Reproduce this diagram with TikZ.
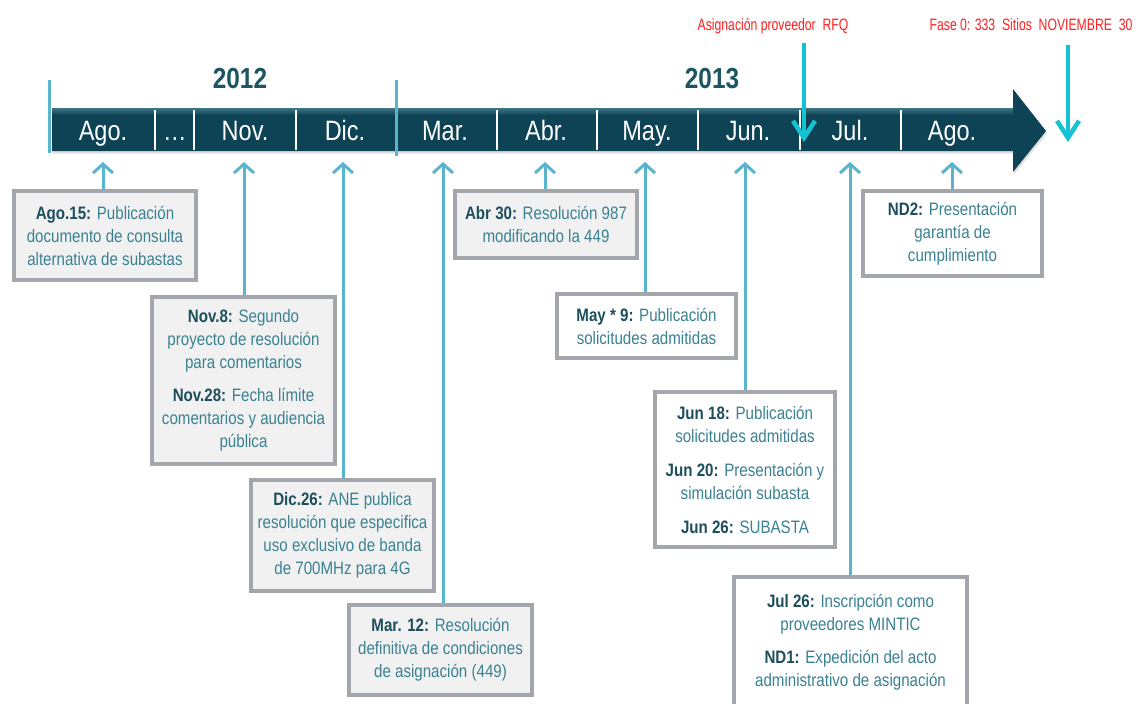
\documentclass[tikz,border=0pt]{standalone}
\usepackage{fontspec}
\setmainfont{Liberation Sans}[FakeStretch=0.84]
\newfontfamily\redfont{Liberation Sans}[FakeStretch=0.74]
\usetikzlibrary{arrows.meta,shadows}
\definecolor{barc}{HTML}{0E4355}
\definecolor{barhi}{HTML}{3E7686}
\definecolor{connc}{HTML}{5AB4CC}
\definecolor{cyanc}{HTML}{17C1D4}
\definecolor{boxgray}{HTML}{A3A7AB}
\definecolor{boxfill}{HTML}{F1F1F1}
\definecolor{txt}{HTML}{3A8191}
\definecolor{txtdark}{HTML}{1D4E5C}
\definecolor{yearc}{HTML}{1D5563}
\definecolor{redc}{HTML}{FF2020}
\newcommand\dt[1]{\textcolor{txtdark}{\textbf{#1}}}
\begin{document}
\begin{tikzpicture}[x=1pt,y=-1pt,
  evbox/.style={draw=boxgray,line width=4pt,fill=boxfill,align=center,text=txt,inner sep=0pt,
    font=\fontsize{18}{23}\selectfont},
  evboxw/.style={evbox,fill=white},
  connarrow/.style={draw=connc,line width=3pt,-{Straight Barb[length=9pt,width=20pt]}},
  cyanarrow/.style={draw=cyanc,line width=4.5pt,-{Straight Barb[length=17pt,width=22pt]}},
  monthlbl/.style={text=white,anchor=base,inner sep=0pt,font=\fontsize{28}{30}\selectfont},
  yearlbl/.style={text=yearc,anchor=base,inner sep=0pt,font=\fontsize{29}{31}\selectfont\bfseries},
  redlbl/.style={text=redc,anchor=base,inner sep=0pt,font=\redfont\fontsize{16.5}{18}\selectfont},
  yearline/.style={draw=connc,line width=3pt},
  divline/.style={draw=white,line width=2.5pt}
]
\useasboundingbox (0,0) rectangle (1138,704);
\clip (0,0) rectangle (1138,704);

% timeline bar
\fill[barc,drop shadow={shadow xshift=1pt,shadow yshift=-2.5pt,opacity=0.25}]
  (52,108) -- (1013,108) -- (1013,89) -- (1046,131) -- (1013,172) -- (1013,151) -- (52,151) -- cycle;
\shade[top color=barhi,bottom color=barc] (52,108) rectangle (1013,115);
\foreach \x in {155,194,296,497,597,698,800,901}
  \draw[divline] (\x,110) -- (\x,150);
\draw[yearline] (49,80) -- (49,153);
\draw[yearline] (396,80) -- (396,156);

% month labels
\node[monthlbl] (m1) at (103,140) {Ago.};
\node[monthlbl] (m2) at (175,140) {…};
\node[monthlbl] (m3) at (245,140) {Nov.};
\node[monthlbl] (m4) at (345,140) {Dic.};
\node[monthlbl] (m5) at (445,140) {Mar.};
\node[monthlbl] (m6) at (546,140) {Abr.};
\node[monthlbl] (m7) at (647,140) {May.};
\node[monthlbl] (m8) at (748,140) {Jun.};
\node[monthlbl] (m9) at (850,140) {Jul.};
\node[monthlbl] (m10) at (952,140) {Ago.};

% years
\node[yearlbl] (y12) at (240,88) {2012};
\node[yearlbl] (y13) at (712,88) {2013};

% red annotations
\node[redlbl] (rfq) at (773,30) {Asignación\ proveedor\ \ RFQ};
\node[redlbl] (fase) at (1031,30) {Fase 0: 333\ \ Sitios\ \ NOVIEMBRE\ \ 30};
\coordinate (rfqtop) at (804,43);
\coordinate (rfqtip) at (804,142);
\coordinate (fasetop) at (1068,45);
\coordinate (fasetip) at (1068,142);
\draw[cyanarrow] (rfqtop) -- (rfqtip);
\draw[cyanarrow] (fasetop) -- (fasetip);

% connector targets
\coordinate (t1) at (103,162);
\coordinate (t2) at (244,162);
\coordinate (t3) at (343,162);
\coordinate (t4) at (443,162);
\coordinate (t5) at (545,162);
\coordinate (t6) at (645,162);
\coordinate (t7) at (745,162);
\coordinate (t8) at (850,162);
\coordinate (t9) at (952,162);

% boxes
\node[evbox,minimum width=182pt,minimum height=89pt] (ago) at (105,235.5)
  {\dt{Ago.15:} Publicación\\documento de consulta\\alternativa de subastas};
\node[evbox,minimum width=183pt,minimum height=167pt] (nov) at (243.5,380.5)
  {\dt{Nov.8:} Segundo\\proyecto de resolución\\para comentarios\\[10pt]\dt{Nov.28:} Fecha límite\\comentarios y audiencia\\pública};
\node[evbox,minimum width=183pt,minimum height=111pt] (dic) at (342.5,535.5)
  {\dt{Dic.26:} ANE publica\\resolución que especifica\\uso exclusivo de banda\\de 700MHz para 4G};
\node[evbox,minimum width=183pt,minimum height=90pt] (mar) at (440.5,650)
  {\dt{Mar. 12:} Resolución\\definitiva de condiciones\\de asignación (449)};
\node[evbox,minimum width=182pt,minimum height=67pt] (abr) at (546,224.5)
  {\dt{Abr 30:} Resolución 987\\modificando la 449};
\node[evboxw,minimum width=179pt,minimum height=64pt] (may) at (646.5,326)
  {\dt{May * 9:} Publicación\\solicitudes admitidas};
\node[evboxw,minimum width=180pt,minimum height=155pt] (jun) at (745,469.5)
  {\dt{Jun 18:} Publicación\\solicitudes admitidas\\[11pt]\dt{Jun 20:} Presentación y\\simulación subasta\\[11pt]\dt{Jun 26:} SUBASTA};
\node[evboxw,minimum width=233pt,minimum height=131pt] (jul) at (850.5,642.5)
  {\dt{Jul 26:} Inscripción como\\proveedores MINTIC\\[10pt]\dt{ND1:} Expedición del acto\\administrativo de asignación};
\node[evboxw,minimum width=179pt,minimum height=85pt] (nd2) at (952.5,233.5)
  {\dt{ND2:} Presentación\\garantía de\\cumplimiento};

% connectors
\draw[connarrow] (t1 |- ago.north) -- (t1);
\draw[connarrow] (t2 |- nov.north) -- (t2);
\draw[connarrow] (t3 |- dic.north) -- (t3);
\draw[connarrow] (t4 |- mar.north) -- (t4);
\draw[connarrow] (t5 |- abr.north) -- (t5);
\draw[connarrow] (t6 |- may.north) -- (t6);
\draw[connarrow] (t7 |- jun.north) -- (t7);
\draw[connarrow] (t8 |- jul.north) -- (t8);
\draw[connarrow] (t9 |- nd2.north) -- (t9);
\end{tikzpicture}
\end{document}
